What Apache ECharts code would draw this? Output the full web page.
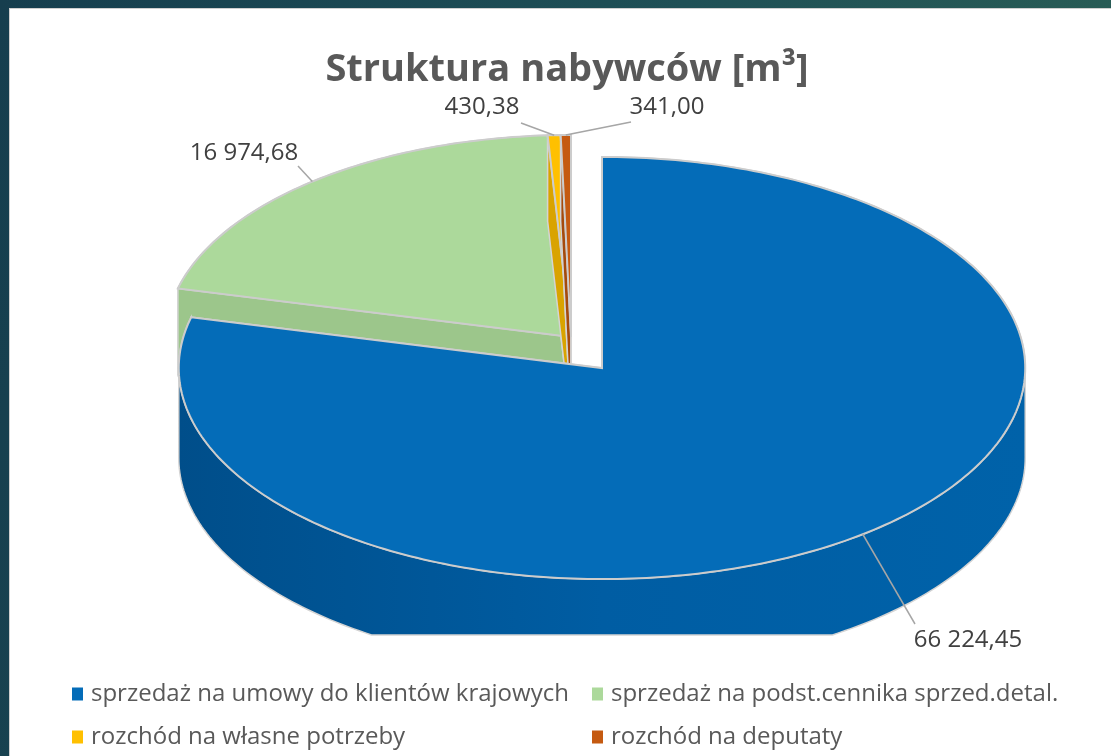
<!DOCTYPE html>
<html>
<head>
<meta charset="utf-8">
<style>
  html, body { margin: 0; padding: 0; width: 1111px; height: 756px; overflow: hidden;
    background: linear-gradient(100deg, #163e4e 0%, #1f5056 55%, #2b5f55 100%); }
  #panel { position: absolute; left: 9px; top: 8px; right: 0; bottom: 0; background: #fff;
    border-left: 1px solid #cfcfcf; border-top: 1px solid #cfcfcf; }
  #chart { position: absolute; left: 0; top: 0; width: 1111px; height: 756px; }
</style>
<script src="https://cdn.jsdelivr.net/npm/echarts@6/dist/echarts.min.js"></script>
</head>
<body>
<div id="panel"></div>
<div id="chart"></div>
<script>
// dane
const categories = [
  'sprzedaż na umowy do klientów krajowych',
  'sprzedaż na podst.cennika sprzed.detal.',
  'rozchód na własne potrzeby',
  'rozchód na deputaty'
];
const values = [66224.45, 16974.68, 430.38, 341.00];

// wyglad
const topColors = ['#046cb8', '#acd99b', '#ffc000', '#c55a11'];
const sideColors = [['#004e8a', '#005da3', '#0062a9'], ['#9cc68b', '#9fca8f'], ['#d9a300', '#e0a800'], ['#a54a0c', '#ad4f0e']];
const pie = { cx: 571, cy: 337, rx: 405, ry: 202, depth: 86, clipY: 635 };
const explode = [{ dx: 31, dy: 31, k: 1.045 }, null, null, null];
const labelPos = [[968, 640], [244, 153], [482, 107], [667, 107]];
const lineEnd = [[915, 624], [298, 166], [521, 123], [631, 122]];

const total = values.reduce((a, b) => a + b, 0);
const startAng = [], endAng = [];
let acc = 0;
values.forEach((v, i) => {
  startAng.push(acc / total * 360);
  acc += v;
  endAng.push(acc / total * 360);
});

const fmt = v => {
  const parts = v.toFixed(2).split('.');
  return parts[0].replace(/\B(?=(\d{3})+(?!\d))/g, ' ') + ',' + parts[1];
};

const geom = i => {
  const e = explode[i];
  if (!e) return { cx: pie.cx, cy: pie.cy, rx: pie.rx, ry: pie.ry, depth: pie.depth };
  return { cx: pie.cx + e.dx, cy: pie.cy + e.dy, rx: pie.rx * e.k, ry: pie.ry * e.k, depth: pie.depth * e.k };
};
const P = (g, a) => {
  const r = a * Math.PI / 180;
  return [g.cx + g.rx * Math.sin(r), g.cy - g.ry * Math.cos(r)];
};
const arcPts = (g, a1, a2) => {
  const pts = [];
  const n = Math.max(2, Math.ceil(a2 - a1));
  for (let k = 0; k <= n; k++) pts.push(P(g, a1 + (a2 - a1) * k / n));
  return pts;
};
const down = (p, d) => [p[0], Math.min(p[1] + d, pie.clipY)];

const wall = (g, a1, a2, i) => {
  if (a2 <= a1) return null;
  const top = arcPts(g, a1, a2);
  const bot = top.map(p => down(p, g.depth)).reverse();
  const stops = sideColors[i].map((c, k, arr) => ({ offset: k / (arr.length - 1), color: c }));
  return {
    type: 'polygon',
    shape: { points: top.concat(bot) },
    style: { fill: { type: 'linear', x: 0, y: 0, x2: 1, y2: 0, colorStops: stops }, stroke: '#d4d4d4', lineWidth: 1.5 }
  };
};

function renderSlice(i) {
  return function (params, api) {
    const g = geom(i);
    const a1 = startAng[i], a2 = endAng[i];
    const c = [g.cx, g.cy];
    const children = [];
    // tylna czesc sciany zewnetrznej
    const backParts = [[a1, Math.min(a2, 90)], [Math.max(a1, 270), a2]];
    backParts.forEach(b => { const w = wall(g, b[0], b[1], i); if (w) children.push(w); });
    // sciany promieniowe
    [a1, a2].forEach(a => {
      const p = P(g, a);
      children.push({
        type: 'polygon',
        shape: { points: [c, p, down(p, g.depth), down(c, g.depth)] },
        style: { fill: sideColors[i][0], stroke: '#d4d4d4', lineWidth: 1.5 }
      });
    });
    // przednia czesc sciany
    const fw = wall(g, Math.max(a1, 90), Math.min(a2, 270), i);
    if (fw) children.push(fw);
    // gora
    children.push({
      type: 'polygon',
      shape: { points: [c].concat(arcPts(g, a1, a2)) },
      style: { fill: topColors[i], stroke: '#cccccc', lineWidth: 2 }
    });
    // etykieta z linia
    const m = P(g, (a1 + a2) / 2);
    children.push({
      type: 'polyline',
      shape: { points: [m, lineEnd[i]] },
      style: { stroke: '#a6a6a6', lineWidth: 1.5, fill: null }
    });
    children.push({
      type: 'text',
      style: {
        text: fmt(values[i]), x: labelPos[i][0], y: labelPos[i][1],
        align: 'center', verticalAlign: 'middle',
        fontSize: 24, fontFamily: 'Open Sans', fill: '#404040'
      }
    });
    return { type: 'group', children: children };
  };
}

const chart = echarts.init(document.getElementById('chart'), null, { renderer: 'canvas' });

const legendBase = {
  orient: 'vertical', top: 681, padding: 0, itemWidth: 11, itemHeight: 13, itemGap: 17, icon: 'rect',
  selectedMode: false,
  textStyle: { fontSize: 24, fontFamily: 'Open Sans', color: '#595959', lineHeight: 26, padding: [0, 0, 0, 3] }
};

chart.setOption({
  animation: false,
  color: topColors,
  title: {
    text: 'Struktura nabywców [m³]',
    left: 562, top: 46, textAlign: 'center',
    textStyle: { fontSize: 38, fontWeight: 'bold', fontFamily: 'Open Sans', color: '#595959' }
  },
  legend: [
    Object.assign({}, legendBase, { left: 72, data: [categories[0], categories[2]] }),
    Object.assign({}, legendBase, { left: 592, data: [categories[1], categories[3]] })
  ],
  series: categories.map((name, i) => ({
    type: 'custom',
    name: name,
    coordinateSystem: 'none',
    z: i === 0 ? 4 : 2,
    silent: true,
    itemStyle: { color: topColors[i] },
    renderItem: renderSlice(i),
    data: [values[i]]
  }))
});
</script>
</body>
</html>
